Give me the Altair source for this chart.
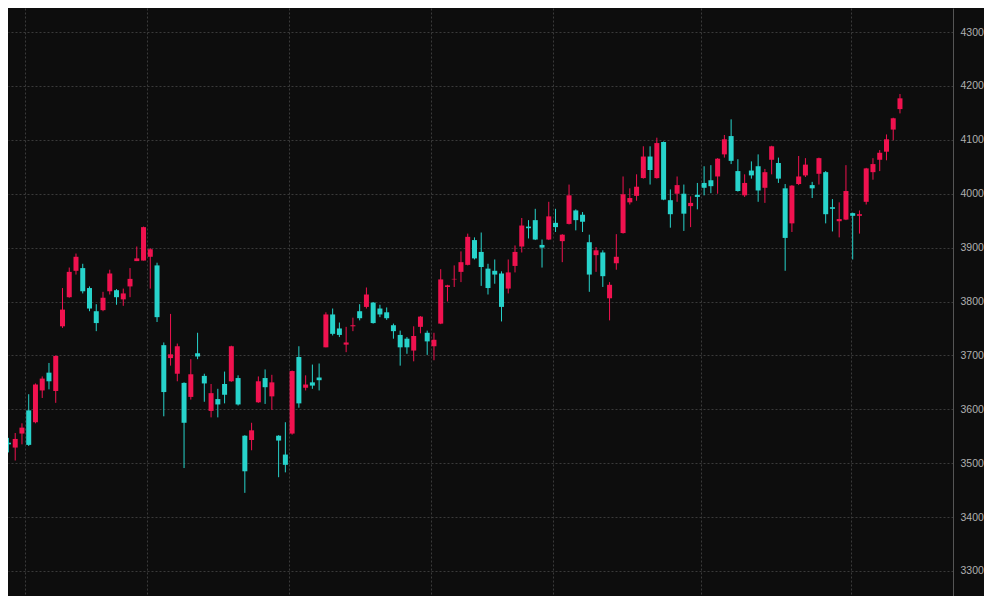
import altair as alt
import pandas as pd

OPEN = [3543,3538,3529,3555,3598,3576,3635,3668,3634,3754,
        3808,3857,3862,3825,3782,3784,3819,3821,3804,3828,
        3875,3876,3883,3867,3719,3695,3666,3649,3623,3704,
        3662,3597,3619,3647,3652,3658,3551,3543,3613,3658,
        3624,3551,3516,3555,3697,3640,3650,3659,3715,3776,
        3750,3720,3754,3782,3790,3798,3787,3780,3756,3738,
        3731,3709,3753,3742,3717,3759,3827,3841,3855,3868,
        3914,3892,3861,3857,3852,3824,3866,3902,3939,3951,
        3905,3915,3946,3912,3944,3969,3961,3910,3886,3891,
        3806,3871,3927,3984,3996,4029,4069,4029,4096,3988,
        4000,4000,3977,3998,4020,4025,4032,4073,4107,4042,
        3997,4043,4051,4011,4063,4057,4010,3945,4018,4034,
        4016,4037,4040,3975,3949,3952,3964,3959,3985,4040,
        4063,4078,4119,4157]

CLOSE = [3564,3535,3545,3566,3534,3646,3657,3652,3699,3785,
         3855,3883,3819,3787,3760,3807,3852,3808,3815,3842,
         3880,3938,3897,3771,3632,3702,3717,3575,3665,3698,
         3648,3630,3609,3627,3717,3609,3485,3561,3652,3641,
         3650,3542,3497,3671,3611,3646,3644,3654,3776,3740,
         3738,3724,3756,3769,3813,3760,3776,3769,3745,3715,
         3715,3736,3772,3726,3729,3841,3830,3842,3873,3920,
         3880,3864,3825,3850,3790,3854,3892,3941,3936,3915,
         3900,3958,3938,3924,3997,3951,3948,3850,3895,3847,
         3831,3883,3999,3992,4013,4069,4044,4094,3989,3962,
         4016,3963,3983,3994,4011,4014,4065,4101,4061,4005,
         4020,4034,4006,4040,4088,4028,3918,4015,4032,4054,
         4010,4066,3962,3972,3953,4005,3959,3962,4047,4055,
         4076,4101,4140,4177]

HIGH = [3568,3547,3556,3574,3628,3648,3661,3686,3700,3825,
        3863,3889,3870,3828,3795,3818,3859,3823,3824,3862,
        3902,3939,3899,3872,3724,3777,3722,3650,3693,3742,
        3666,3647,3638,3670,3718,3663,3552,3575,3661,3674,
        3664,3552,3576,3672,3717,3663,3683,3685,3780,3787,
        3761,3753,3770,3795,3826,3799,3794,3789,3759,3746,
        3734,3754,3773,3746,3742,3860,3831,3867,3893,3926,
        3919,3928,3870,3878,3856,3878,3904,3955,3951,3972,
        3915,3985,3972,3925,4017,3971,3966,3924,3901,3895,
        3836,3925,4032,4010,4036,4088,4088,4104,4097,4008,
        4032,4017,3995,4020,4051,4053,4066,4109,4138,4064,
        4036,4060,4073,4046,4089,4067,4018,4016,4070,4066,
        4022,4067,4042,3990,3984,4053,3965,3969,4048,4066,
        4081,4110,4141,4185]

LOW = [3527,3520,3505,3535,3532,3574,3621,3637,3612,3751,
       3807,3850,3815,3782,3745,3782,3813,3794,3792,3808,
       3875,3876,3824,3762,3587,3681,3652,3491,3618,3693,
       3614,3585,3585,3611,3651,3607,3445,3524,3612,3610,
       3599,3474,3483,3553,3603,3635,3638,3635,3715,3737,
       3734,3706,3745,3765,3787,3759,3771,3766,3731,3681,
       3703,3689,3741,3701,3691,3758,3800,3827,3836,3867,
       3878,3829,3813,3833,3763,3815,3854,3891,3917,3914,
       3863,3914,3929,3873,3943,3932,3929,3818,3855,3827,
       3765,3859,3926,3980,3987,4028,4017,4028,3988,3937,
       3985,3931,3938,3971,3997,4001,4000,4067,4055,4004,
       3994,4028,3985,3983,4036,4020,3857,3929,4016,4031,
       3992,4017,3945,3930,3919,3951,3878,3926,3980,4026,
       4042,4062,4099,4149]

Y_TICKS = [3300, 3400, 3500, 3600, 3700, 3800, 3900, 4000, 4100, 4200, 4300]
X_GRID = [3.5, 21.55, 42.6, 63.55, 81.6, 103.5, 125.7]

df = pd.DataFrame({
    "i": list(range(len(OPEN))),
    "open": OPEN,
    "high": HIGH,
    "low": LOW,
    "close": CLOSE,
})

BG = "#0d0d0d"
UP = "#f0124f"
DOWN = "#27d3cb"
GRID = "#3a3a3a"

color = alt.condition("datum.close >= datum.open", alt.value(UP), alt.value(DOWN))

x_enc = alt.X(
    "i:Q",
    scale=alt.Scale(domain=[0.933, 140.85], nice=False, zero=False, padding=0),
    axis=alt.Axis(values=X_GRID, labels=False, ticks=False, domain=False,
                  title=None, grid=True, gridColor=GRID, gridDash=[2, 2]),
)

y_scale = alt.Scale(domain=[3253.6, 4344.6], nice=False, zero=False, padding=0)
y_axis = alt.Axis(orient="right", values=Y_TICKS, format="d", title=None, ticks=False,
                  labelPadding=7, labelColor="#b0b0b0", labelFont="Liberation Sans",
                  labelFontSize=10.5, domainColor="#555555", grid=True,
                  gridColor=GRID, gridDash=[2, 2])

base = alt.Chart(df).encode(x=x_enc, color=color)

wick = base.mark_rule(strokeWidth=1, clip=True).encode(
    y=alt.Y("low:Q", scale=y_scale, axis=y_axis),
    y2="high:Q",
)
body = base.mark_bar(size=5, clip=True).encode(
    y=alt.Y("open:Q", scale=y_scale),
    y2="close:Q",
)

chart = (
    (wick + body)
    .properties(width=945, height=588, background=BG, padding=0)
    .configure_view(strokeWidth=0)
)

chart.save("out.html", embed_options={"renderer": "svg", "actions": False})
